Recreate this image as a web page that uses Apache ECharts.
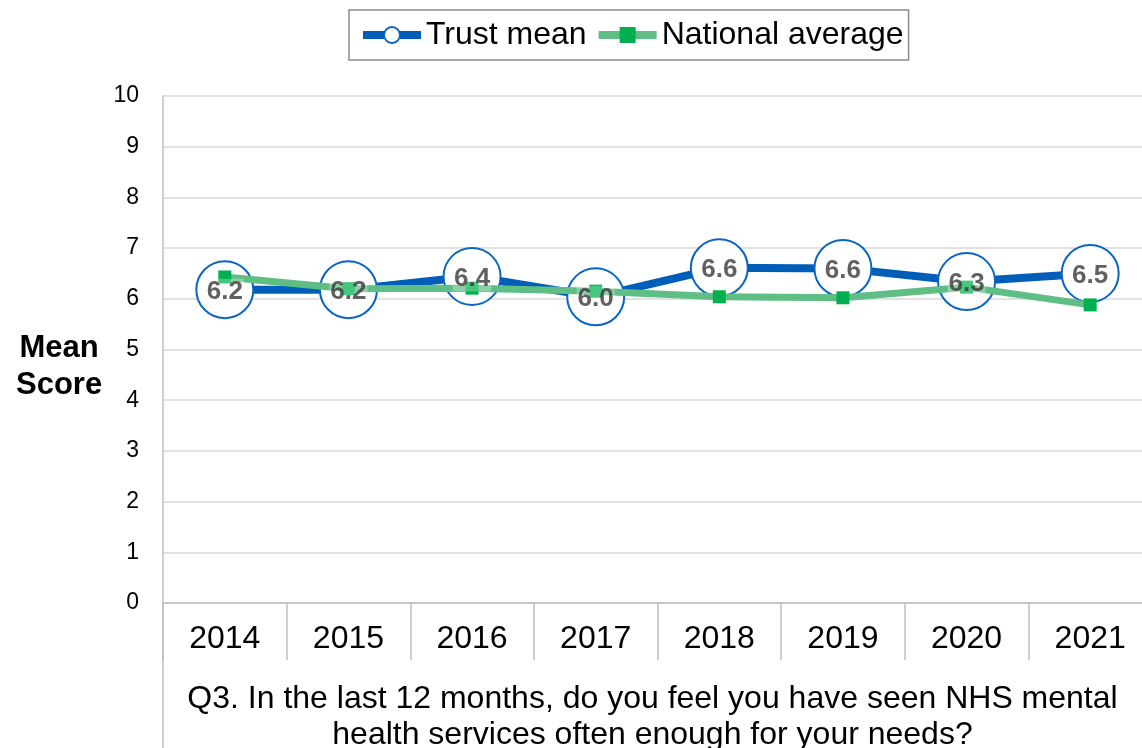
<!DOCTYPE html>
<html>
<head>
<meta charset="utf-8">
<script src="https://cdn.jsdelivr.net/npm/echarts@6/dist/echarts.min.js"></script>
<style>
  html, body { margin: 0; padding: 0; background: #fff; }
  #chart { width: 1142px; height: 748px; }
</style>
</head>
<body>
<div id="chart"></div>
<script>
// Survey years along the category axis
const years = ['2014', '2015', '2016', '2017', '2018', '2019', '2020', '2021'];
// Trust mean score per year
const trustMean = [6.18, 6.18, 6.44, 6.04, 6.61, 6.6, 6.34, 6.5];
// National average score per year
const nationalAverage = [6.43, 6.2, 6.21, 6.15, 6.04, 6.02, 6.23, 5.88];
// Question text shown under the axis
const questionText = 'Q3. In the last 12 months, do you feel you have seen NHS mental\nhealth services often enough for your needs?';
const yAxisTitle = 'Mean\nScore';

const FONT = '"Liberation Sans", Arial, sans-serif';
const BLUE = '#005EB8';
const CIRCLE_BORDER = '#0A64C2';
const GREEN_LINE = '#5FBE84';
const GREEN_MARK = '#00B050';
const AXIS_GRAY = '#bfbfbf';

const chart = echarts.init(document.getElementById('chart'), null, { renderer: 'canvas' });

const gridLeft = 163, gridTop = 96, gridHeight = 507;

chart.setOption({
  animation: false,
  textStyle: { fontFamily: FONT },
  legend: {
    left: 349,
    top: 10,
    padding: [9, 5, 9, 10],
    borderColor: '#8c8c8c',
    borderWidth: 1.5,
    itemWidth: 58,
    itemHeight: 20,
    itemGap: 8,
    lineStyle: { width: 8 },
    textStyle: { fontSize: 32, color: '#000', fontFamily: FONT },
    data: ['Trust mean', 'National average']
  },
  grid: { left: gridLeft, top: gridTop, width: 989, height: gridHeight, outerBoundsMode: 'none', containLabel: false },
  xAxis: {
    type: 'category',
    data: years,
    boundaryGap: true,
    axisLine: { show: true, lineStyle: { color: AXIS_GRAY, width: 1.5 } },
    axisTick: { show: true, interval: 0, length: 57, lineStyle: { color: AXIS_GRAY, width: 1.5 } },
    axisLabel: { fontSize: 32, color: '#000', margin: 20, interval: 0, fontFamily: FONT },
    splitLine: { show: false },
    name: questionText,
    nameLocation: 'middle',
    nameGap: 78,
    nameTextStyle: { fontSize: 32, color: '#000', lineHeight: 36, fontFamily: FONT, align: 'center', padding: [0, 10, 0, 0] }
  },
  yAxis: {
    type: 'value',
    min: 0,
    max: 10,
    interval: 1,
    axisLine: { show: true, lineStyle: { color: AXIS_GRAY, width: 1.5 } },
    axisTick: { show: false },
    axisLabel: { fontSize: 23, color: '#000', margin: 24, fontFamily: FONT },
    splitLine: { show: true, lineStyle: { color: '#d9d9d9', width: 1.5 } }
  },
  graphic: [
    {
      // outer edge of the category block, running to the bottom
      type: 'line',
      shape: { x1: gridLeft, y1: gridTop + gridHeight, x2: gridLeft, y2: 748 },
      style: { stroke: AXIS_GRAY, lineWidth: 1.5 },
      silent: true
    },
    {
      type: 'text',
      left: 16,
      top: 330,
      style: {
        text: yAxisTitle,
        font: 'bold 31px ' + FONT,
        fill: '#000',
        textAlign: 'center',
        lineHeight: 37
      }
    }
  ],
  series: [
    {
      name: 'Trust mean',
      type: 'line',
      data: trustMean,
      z: 2,
      symbol: 'circle',
      symbolSize: 57,
      showAllSymbol: true,
      lineStyle: { color: BLUE, width: 8 },
      itemStyle: { color: '#fff', borderColor: CIRCLE_BORDER, borderWidth: 2 },
      label: { show: false },
      emphasis: { disabled: true }
    },
    {
      name: 'National average',
      type: 'line',
      data: nationalAverage,
      z: 3,
      symbol: 'rect',
      symbolSize: 13,
      showAllSymbol: true,
      lineStyle: { color: GREEN_LINE, width: 7 },
      itemStyle: { color: GREEN_MARK },
      emphasis: { disabled: true }
    },
    {
      // value labels for the trust mean, sitting above both lines
      name: 'trust-labels',
      type: 'scatter',
      data: trustMean,
      z: 4,
      symbolSize: 1,
      itemStyle: { color: 'transparent' },
      silent: true,
      label: {
        show: true,
        position: 'inside',
        offset: [0, 2],
        formatter: p => p.value.toFixed(1),
        fontSize: 26,
        fontWeight: 'bold',
        color: '#383838',
        fontFamily: FONT,
        backgroundColor: 'rgba(255,255,255,0.35)',
        padding: [0, 1]
      },
      emphasis: { disabled: true }
    }
  ]
});
</script>
</body>
</html>
